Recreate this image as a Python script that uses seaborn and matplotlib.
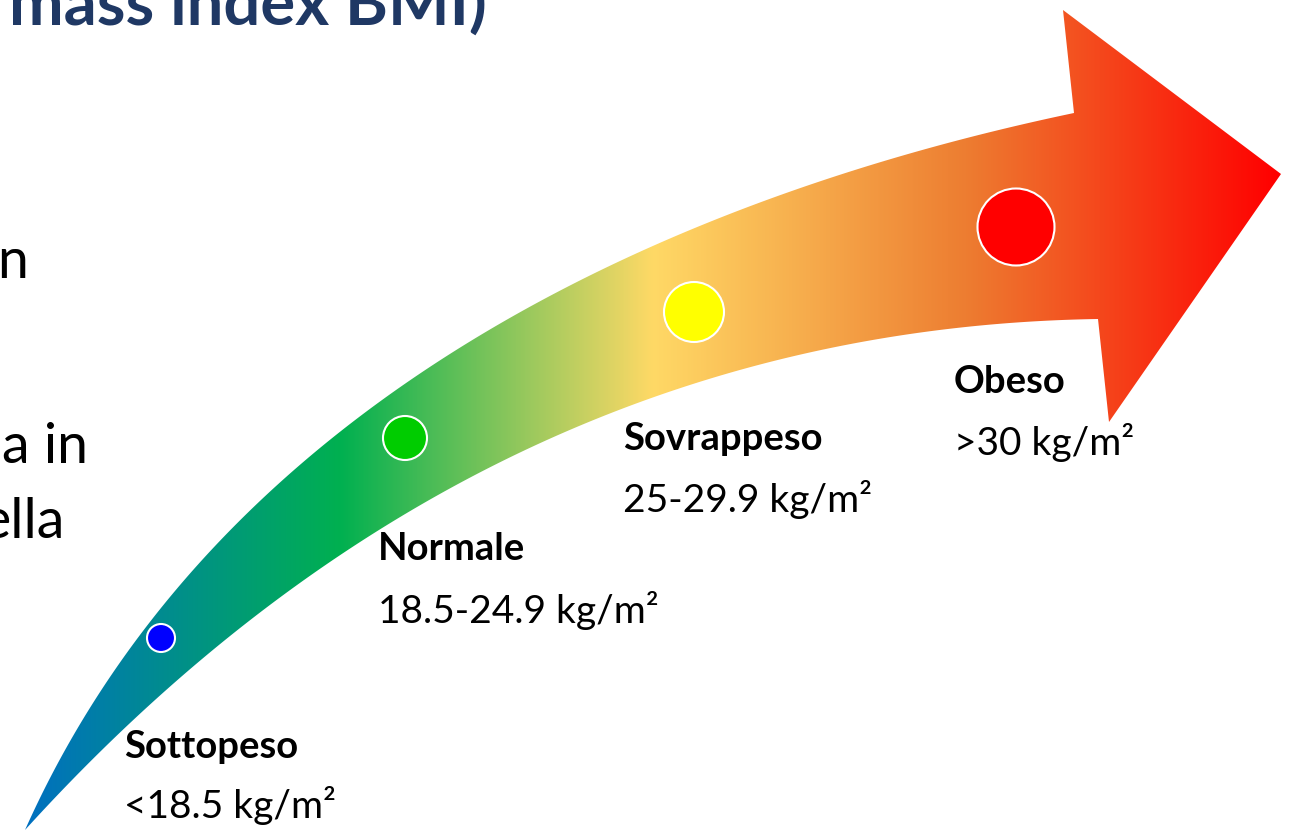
import numpy as np
import matplotlib
matplotlib.use("Agg")
import matplotlib.pyplot as plt
import matplotlib.colors as mcolors
from matplotlib.patches import Polygon
import seaborn as sns

# ── Dati ─────────────────────────────────────────────
categorie = ["Sottopeso", "Normale", "Sovrappeso", "Obeso"]
intervalli = ["<18.5 kg/m²", "18.5-24.9 kg/m²", "25-29.9 kg/m²", ">30 kg/m²"]
colori_punti = ["#0000FF", "#00CC00", "#FFFF00", "#FF0000"]
titolo = "mass index BMI)"
frammenti = ["n", "a in", "ella"]

# ── Layout (pixel dell'immagine) ─────────────────────
W, H = 1289, 832
punti_x = [161, 405, 694, 1016]
punti_y = [638, 438, 312, 227]
raggi_px = [14, 22, 30, 38.5]
etich_x = [124, 378, 623, 954]
etich_y = [758, 560, 450, 393]
valori_y = [818, 623, 512, 455]

bordo_sup = [(25, 830), (67, 756), (110, 686), (150, 628), (200, 562), (250, 505),
             (317, 443), (405, 382), (500, 327), (600, 272), (694, 228), (800, 188),
             (900, 157), (1016, 128), (1074, 113)]
bordo_inf = [(25, 830), (100, 762), (170, 702), (240, 638), (300, 580), (405, 500),
             (500, 452), (600, 414), (694, 386), (800, 361), (900, 343), (1016, 326),
             (1098, 319)]
punta = [(1063, 10), (1281, 174), (1109, 422)]

gradiente = ["#0070C0", "#00B050", "#FFD966", "#ED7D31", "#FF0000"]


def curva_bezier(pts, n=200):
    """Bezier cubica ai minimi quadrati con estremi fissi."""
    pts = np.asarray(pts, float)
    d = np.r_[0, np.cumsum(np.hypot(*np.diff(pts, axis=0).T))]
    t = d / d[-1]
    p0, p3 = pts[0], pts[-1]
    for _ in range(3):
        b0, b1 = (1 - t) ** 3, 3 * (1 - t) ** 2 * t
        b2, b3 = 3 * (1 - t) * t ** 2, t ** 3
        rhs = pts - np.outer(b0, p0) - np.outer(b3, p3)
        (p1, p2), *_ = np.linalg.lstsq(np.column_stack([b1, b2]), rhs, rcond=None)
        # riparametrizza sui punti più vicini
        tt = np.linspace(0, 1, 2000)[:, None]
        curve = (1 - tt) ** 3 * p0 + 3 * (1 - tt) ** 2 * tt * p1 \
            + 3 * (1 - tt) * tt ** 2 * p2 + tt ** 3 * p3
        idx = np.argmin(((pts[:, None, :] - curve[None]) ** 2).sum(-1), axis=1)
        t = tt[idx, 0]
    tt = np.linspace(0, 1, n)[:, None]
    return (1 - tt) ** 3 * p0 + 3 * (1 - tt) ** 2 * tt * p1 \
        + 3 * (1 - tt) * tt ** 2 * p2 + tt ** 3 * p3


sns.set_theme(style="white")
plt.rcParams["font.family"] = ["Lato", "DejaVu Sans"]

fig = plt.figure(figsize=(W / 100, H / 100), dpi=100)
fig.patch.set_facecolor("white")
ax = fig.add_axes([0, 0, 1, 1])

# ── Freccia curva con gradiente ──────────────────────
sup = curva_bezier(bordo_sup)
inf = curva_bezier(bordo_inf)
contorno = np.vstack([sup, np.array(punta), inf[::-1]])
forma = Polygon(contorno, closed=True, facecolor="none", edgecolor="none")
ax.add_patch(forma)

cmap = mcolors.LinearSegmentedColormap.from_list(
    "bmi", list(zip([0, 0.25, 0.5, 0.75, 1.0], gradiente)))
grad = np.linspace(0, 1, 512)[None, :].repeat(2, axis=0)
img = ax.imshow(grad, cmap=cmap, aspect="auto",
                extent=[25, 1281, 832, 0], interpolation="bicubic", zorder=1)
img.set_clip_path(forma)

# ── Punti ────────────────────────────────────────────
dimensioni = {c: (2 * r * 0.72) ** 2 for c, r in zip(categorie, raggi_px)}
sns.scatterplot(x=punti_x, y=punti_y, hue=categorie, palette=colori_punti,
                size=categorie, sizes=dimensioni, legend=False,
                edgecolor="white", linewidth=1.5, ax=ax, zorder=3)

# ── Etichette ────────────────────────────────────────
for cat, val, x, y1, y2 in zip(categorie, intervalli, etich_x, etich_y, valori_y):
    ax.text(x, y1, cat, fontsize=27.5, fontweight="bold", color="black",
            ha="left", va="baseline")
    ax.text(x, y2, val, fontsize=28, color="black", ha="left", va="baseline")

# Titolo e testo della slide tagliati dal bordo sinistro, come nell'originale
ax.text(487, 25, titolo, fontsize=47, fontweight="bold", color="#1F3864",
        ha="right", va="baseline")
for testo, x, y in zip(frammenti, [28, 88, 65], [278, 463, 538]):
    ax.text(x, y, testo, fontsize=40, color="black", ha="right", va="baseline")

ax.set_xlim(0, W)
ax.set_ylim(H, 0)
ax.axis("off")

fig.savefig("out.png", dpi=100, facecolor="white")
plt.close(fig)
